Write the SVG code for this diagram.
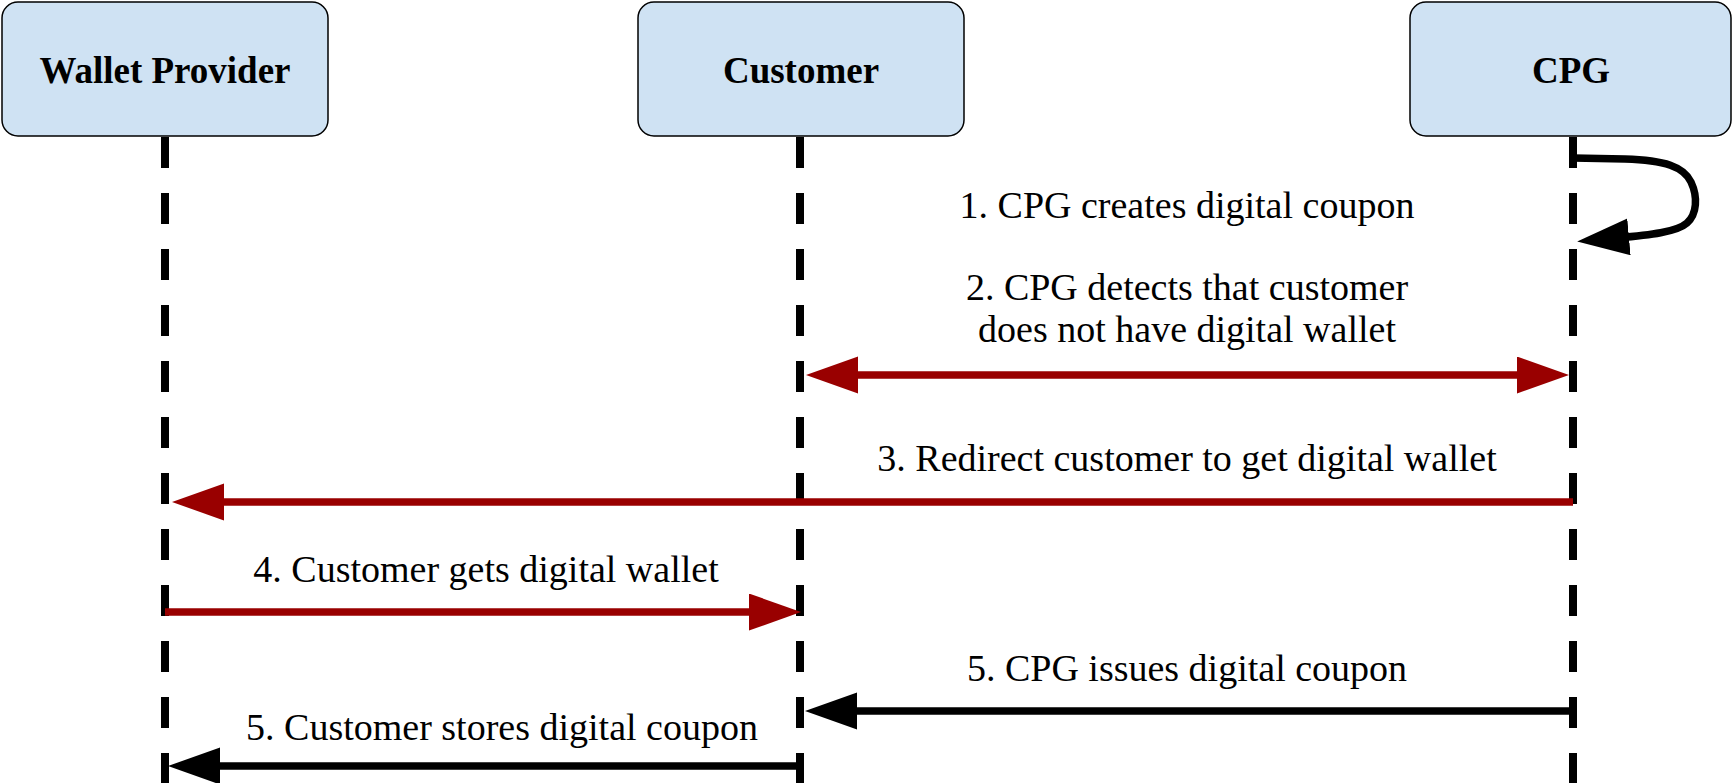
<svg xmlns="http://www.w3.org/2000/svg" width="1733" height="783" viewBox="0 0 1733 783">
<style>
.box{fill:#cfe2f3;stroke:#000;stroke-width:1.5}
.hdr{font-family:"Liberation Serif",serif;font-weight:bold;font-size:37px;fill:#000;text-anchor:middle}
.lbl{font-family:"Liberation Serif",serif;font-size:38px;fill:#000;text-anchor:middle}
.life{stroke:#000;stroke-width:8;stroke-dasharray:31 25;fill:none}
.red{stroke:#990000;stroke-width:7.5;fill:none}
.blk{stroke:#000;stroke-width:7.5;fill:none}
</style>
<defs>
<marker id="ar" markerUnits="userSpaceOnUse" markerWidth="53" markerHeight="38" viewBox="0 0 53 38" refX="12" refY="18.5" orient="auto-start-reverse">
<path d="M0,0 L52,18.5 L0,37 Z" fill="#990000"/>
</marker>
<marker id="ab" markerUnits="userSpaceOnUse" markerWidth="53" markerHeight="38" viewBox="0 0 53 38" refX="12" refY="18.5" orient="auto-start-reverse">
<path d="M0,0 L52,18.5 L0,37 Z" fill="#000"/>
</marker>
</defs>
<g id="lifelines">
<line class="life" x1="165" y1="137" x2="165" y2="783"/>
<line class="life" x1="800" y1="137" x2="800" y2="783"/>
<line class="life" x1="1573" y1="137" x2="1573" y2="783"/>
</g>
<g id="wallet-provider">
<rect class="box" x="2" y="2" width="326" height="134" rx="16"/>
<text class="hdr" x="165" y="83">Wallet Provider</text>
</g>
<g id="customer">
<rect class="box" x="638" y="2" width="326" height="134" rx="16"/>
<text class="hdr" x="801" y="83">Customer</text>
</g>
<g id="cpg">
<rect class="box" x="1410" y="2" width="321" height="134" rx="16"/>
<text class="hdr" x="1571" y="83">CPG</text>
</g>
<g id="connectors">
<path class="blk" d="M1573,158 L1625,159 C1665,160 1684,167 1691,182 C1698,197 1697,214 1687,223 C1677,232 1650,235 1617,238" marker-end="url(#ab)"/>
<line class="red" x1="846" y1="375" x2="1529" y2="375" marker-start="url(#ar)" marker-end="url(#ar)"/>
<line class="red" x1="1573" y1="502" x2="212" y2="502" marker-end="url(#ar)"/>
<line class="red" x1="165" y1="612" x2="761" y2="612" marker-end="url(#ar)"/>
<line class="blk" x1="1573" y1="711" x2="845" y2="711" marker-end="url(#ab)"/>
<line class="blk" x1="800" y1="766" x2="208" y2="766" marker-end="url(#ab)"/>
</g>
<g id="labels">
<text class="lbl" x="1187" y="218">1. CPG creates digital coupon</text>
<text class="lbl" x="1187" y="300">2. CPG detects that customer</text>
<text class="lbl" x="1187" y="342">does not have digital wallet</text>
<text class="lbl" x="1187" y="471">3. Redirect customer to get digital wallet</text>
<text class="lbl" x="486" y="582">4. Customer gets digital wallet</text>
<text class="lbl" x="1187" y="681">5. CPG issues digital coupon</text>
<text class="lbl" x="502" y="740">5. Customer stores digital coupon</text>
</g>
</svg>
